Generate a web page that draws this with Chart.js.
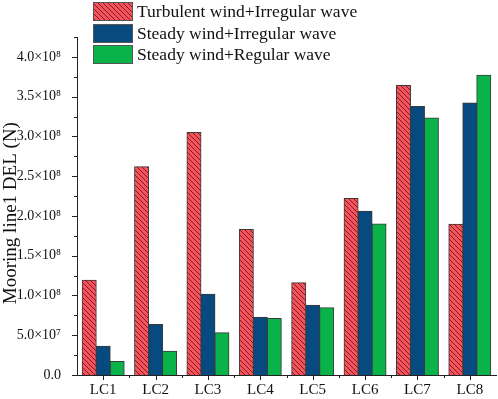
<!DOCTYPE html>
<html>
<head>
<meta charset="utf-8">
<script src="https://cdn.jsdelivr.net/npm/chart.js@4"></script>
<style>
  html, body { margin: 0; padding: 0; background: #fff; }
  #wrap { width: 498px; height: 399px; }
</style>
</head>
<body>
<div id="wrap"><canvas id="c" width="498" height="399"></canvas></div>
<script>
// data
const categories = ["LC1", "LC2", "LC3", "LC4", "LC5", "LC6", "LC7", "LC8"];
const seriesNames = ["Turbulent wind+Irregular wave", "Steady wind+Irregular wave", "Steady wind+Regular wave"];
const turbulentIrregular = [1.19e8, 2.62e8, 3.05e8, 1.83e8, 1.16e8, 2.22e8, 3.64e8, 1.895e8];
const steadyIrregular = [0.36e8, 0.635e8, 1.015e8, 0.725e8, 0.877e8, 2.06e8, 3.375e8, 3.42e8];
const steadyRegular = [0.17e8, 0.30e8, 0.53e8, 0.712e8, 0.846e8, 1.90e8, 3.23e8, 3.77e8];
const yTicks = [0, 0.5e8, 1.0e8, 1.5e8, 2.0e8, 2.5e8, 3.0e8, 3.5e8, 4.0e8];

const SERIF = "'Liberation Serif', 'Times New Roman', serif";

// red fill with dark diagonal hatching
function hatch() {
  const s = 5;
  const p = document.createElement("canvas");
  p.width = s; p.height = s;
  const g = p.getContext("2d");
  g.fillStyle = "#f5545d";
  g.fillRect(0, 0, s, s);
  g.strokeStyle = "#7d1a22";
  g.lineWidth = 1;
  g.beginPath();
  g.moveTo(0, 0); g.lineTo(s, s);
  g.moveTo(-1, s - 1); g.lineTo(1, s + 1);
  g.moveTo(s - 1, -1); g.lineTo(s + 1, 1);
  g.stroke();
  return g.createPattern(p, "repeat");
}
const ctx = document.getElementById("c").getContext("2d");
const redHatch = hatch();

const sup = { "7": "\u2077", "8": "\u2078" };
function fmt(v) {
  if (v === 0) return "0.0";
  const e = Math.floor(Math.log10(v) + 1e-9);
  return (v / Math.pow(10, e)).toFixed(1) + "\u00d710" + sup[String(e)];
}

// ticks (major + minor) and the custom legend
const extras = {
  id: "extras",
  afterDraw(chart) {
    const c = chart.ctx;
    const x = chart.scales.x, y = chart.scales.y;
    const area = chart.chartArea;
    c.save();
    c.strokeStyle = "#222";
    c.lineWidth = 1;
    c.beginPath();
    for (let v = 0; v <= 4.25e8 + 1; v += 0.25e8) {
      const py = Math.round(y.getPixelForValue(v)) + 0.5;
      const major = Math.round(v / 0.25e8) % 2 === 0;
      c.moveTo(area.left, py);
      c.lineTo(area.left - (major ? 5 : 3), py);
    }
    const n = categories.length;
    for (let i = 0; i < n; i++) {
      const px = Math.round(x.getPixelForValue(i)) + 0.5;
      c.moveTo(px, area.bottom);
      c.lineTo(px, area.bottom + 5);
      const bx = Math.round(x.getPixelForValue(i + 0.5)) + 0.5;
      if (i < n - 1) {
        c.moveTo(bx, area.bottom);
        c.lineTo(bx, area.bottom + 3);
      }
    }
    c.stroke();

    // legend
    c.font = "17.5px " + SERIF;
    c.textBaseline = "middle";
    c.textAlign = "left";
    const rows = [2, 24, 45];
    chart.data.datasets.forEach((ds, i) => {
      c.fillStyle = ds.backgroundColor;
      c.fillRect(93, rows[i], 40, 19);
      c.strokeStyle = "#555";
      c.strokeRect(93.5, rows[i] + 0.5, 39, 18);
      c.fillStyle = "#111";
      c.fillText(ds.label, 137, rows[i] + 10);
    });
    c.restore();
  }
};

new Chart(ctx, {
  type: "bar",
  data: {
    labels: categories,
    datasets: [
      { label: seriesNames[0], data: turbulentIrregular, backgroundColor: redHatch },
      { label: seriesNames[1], data: steadyIrregular, backgroundColor: "#074a80" },
      { label: seriesNames[2], data: steadyRegular, backgroundColor: "#0ab24a" }
    ]
  },
  options: {
    responsive: false,
    animation: false,
    layout: { padding: { top: 37, right: 2, left: 0, bottom: 0 } },
    datasets: {
      bar: {
        categoryPercentage: 0.8,
        barPercentage: 1.0,
        borderWidth: 1,
        borderColor: "#3a3a3a",
        borderSkipped: "bottom",
        inflateAmount: 0.5
      }
    },
    plugins: {
      legend: { display: false },
      tooltip: { enabled: false }
    },
    scales: {
      x: {
        grid: { display: false, drawTicks: false },
        border: { display: true, color: "#222", width: 1 },
        ticks: { color: "#111", font: { family: SERIF, size: 15 }, padding: 6, maxRotation: 0 },
        afterFit(s) { s.height = 24; }
      },
      y: {
        min: 0,
        max: 4.25e8,
        grid: { display: false },
        border: { display: true, color: "#222", width: 1 },
        afterBuildTicks(s) { s.ticks = yTicks.map(v => ({ value: v })); },
        ticks: {
          color: "#111",
          font: { family: SERIF, size: 14 },
          padding: 8,
          callback: v => fmt(v)
        },
        title: {
          display: true,
          text: "Mooring line1 DEL (N)\u2002 ",
          color: "#111",
          font: { family: SERIF, size: 19 },
          padding: { top: 0, bottom: 1 }
        },
        afterFit(s) { s.width = 77; }
      }
    }
  },
  plugins: [extras]
});
</script>
</body>
</html>
